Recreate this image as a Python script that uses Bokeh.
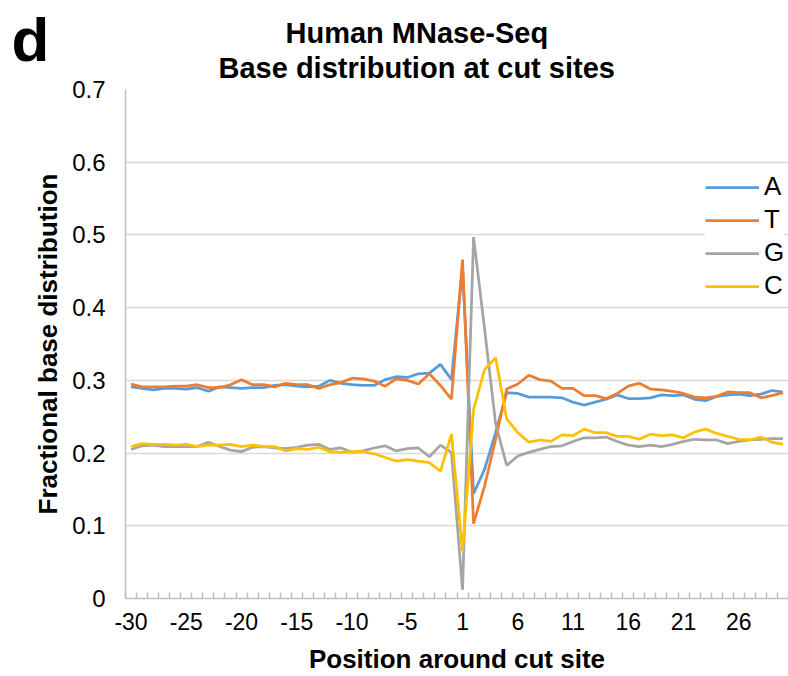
from bokeh.plotting import figure
from bokeh.models import (FixedTicker, Legend, LegendItem, Range1d,
                          CustomJSTickFormatter, Title)
from bokeh.embed import file_html
from bokeh.resources import INLINE

# Positions around the MNase cut site (no position 0)
positions = list(range(-30, 0)) + list(range(1, 31))

base_a = [0.291, 0.289, 0.287, 0.289, 0.289, 0.288, 0.290, 0.285, 0.291, 0.290,
          0.289, 0.290, 0.290, 0.293, 0.294, 0.292, 0.291, 0.292, 0.300, 0.296,
          0.294, 0.293, 0.293, 0.301, 0.305, 0.304, 0.309, 0.310, 0.322, 0.301,
          0.455, 0.144, 0.178, 0.228, 0.283, 0.282, 0.277, 0.277, 0.277, 0.276,
          0.270, 0.266, 0.270, 0.274, 0.280, 0.275, 0.275, 0.276, 0.280, 0.279,
          0.280, 0.274, 0.272, 0.278, 0.280, 0.281, 0.279, 0.281, 0.286, 0.284]

base_t = [0.295, 0.291, 0.291, 0.291, 0.292, 0.292, 0.294, 0.290, 0.290, 0.294,
          0.301, 0.294, 0.294, 0.291, 0.296, 0.294, 0.294, 0.289, 0.294, 0.297,
          0.303, 0.302, 0.299, 0.292, 0.302, 0.300, 0.295, 0.309, 0.293, 0.274,
          0.466, 0.103, 0.155, 0.219, 0.288, 0.295, 0.307, 0.301, 0.299, 0.289,
          0.289, 0.279, 0.279, 0.275, 0.282, 0.292, 0.296, 0.288, 0.287, 0.285,
          0.282, 0.277, 0.276, 0.278, 0.284, 0.283, 0.283, 0.276, 0.279, 0.283]

base_g = [0.205, 0.210, 0.211, 0.209, 0.209, 0.209, 0.209, 0.215, 0.209, 0.204,
          0.202, 0.208, 0.209, 0.207, 0.206, 0.208, 0.211, 0.212, 0.205, 0.207,
          0.201, 0.203, 0.207, 0.210, 0.203, 0.206, 0.207, 0.195, 0.211, 0.201,
          0.012, 0.497, 0.370, 0.240, 0.183, 0.196, 0.201, 0.205, 0.209, 0.210,
          0.216, 0.221, 0.221, 0.222, 0.216, 0.211, 0.209, 0.211, 0.209, 0.212,
          0.216, 0.219, 0.218, 0.218, 0.213, 0.216, 0.218, 0.219, 0.220, 0.220]

base_c = [0.209, 0.213, 0.212, 0.212, 0.211, 0.212, 0.209, 0.211, 0.211, 0.212,
          0.209, 0.211, 0.209, 0.209, 0.203, 0.206, 0.205, 0.208, 0.202, 0.201,
          0.202, 0.202, 0.199, 0.194, 0.189, 0.191, 0.189, 0.187, 0.175, 0.226,
          0.065, 0.260, 0.315, 0.331, 0.247, 0.228, 0.215, 0.218, 0.216, 0.225,
          0.224, 0.233, 0.228, 0.228, 0.223, 0.223, 0.219, 0.226, 0.224, 0.225,
          0.221, 0.229, 0.233, 0.227, 0.223, 0.219, 0.218, 0.222, 0.215, 0.212]

series_names = ["A", "T", "G", "C"]
series_colors = ["#5B9BD5", "#ED7D31", "#A5A5A5", "#FFC000"]

y_ticks = [0.0, 0.1, 0.2, 0.3, 0.4, 0.5, 0.6, 0.7]
label_every = 5

title_lines = ["Human MNase-Seq", "Base distribution at cut sites"]
panel_letter = "d"

FONT = "Liberation Sans"

x = list(range(len(positions)))

p = figure(width=788, height=676, output_backend="svg", toolbar_location=None,
           x_range=Range1d(-0.5, len(positions) - 0.5), y_range=Range1d(0, 0.7),
           min_border_left=125, min_border_right=0, min_border_top=89,
           min_border_bottom=76, title=None)
p.outline_line_color = None
p.background_fill_color = "white"
p.border_fill_color = "white"


def heading(text, size, offset, standoff):
    return Title(text=text, align="left", offset=offset, standoff=standoff,
                 text_font=FONT, text_font_size=size, text_font_style="bold",
                 text_color="black")


# Rows of the top panel, from the frame outwards: second title line, the
# panel letter (pulled down beside the title), then the first title line.
p.add_layout(heading(title_lines[1], "29px", 93, 11), "above")
p.add_layout(heading(panel_letter, "62px", -114, -59), "above")
p.add_layout(heading(title_lines[0], "29px", 160, -33), "above")

# X axis: labels every 5th position, small inward marks between categories
xa = p.xaxis[0]
major = x[::label_every]
xa.ticker = FixedTicker(ticks=major,
                        minor_ticks=[i - 0.5 for i in range(len(positions) + 1)])
xa.major_label_overrides = {i: str(positions[i]) for i in major}
xa.major_tick_in = 0
xa.major_tick_out = 0
xa.minor_tick_in = 6
xa.minor_tick_out = 0
xa.minor_tick_line_color = "#BFBFBF"
xa.minor_tick_line_width = 1.5
xa.axis_line_color = "#BFBFBF"
xa.axis_line_width = 1.5
xa.major_label_text_font = FONT
xa.major_label_text_font_size = "23px"
xa.major_label_text_color = "black"
xa.major_label_standoff = 14
xa.axis_label = "Position around cut site"
xa.axis_label_text_font = FONT
xa.axis_label_text_font_size = "26px"
xa.axis_label_text_font_style = "bold"
xa.axis_label_text_color = "black"
xa.axis_label_standoff = 11

# Y axis
ya = p.yaxis[0]
ya.ticker = FixedTicker(ticks=y_ticks)
ya.formatter = CustomJSTickFormatter(
    code="return tick === 0 ? '0' : tick.toFixed(1);")
ya.major_tick_in = 0
ya.major_tick_out = 0
ya.minor_tick_line_color = None
ya.axis_line_color = "#BFBFBF"
ya.axis_line_width = 1.5
ya.major_label_text_font = FONT
ya.major_label_text_font_size = "24px"
ya.major_label_text_color = "black"
ya.major_label_standoff = 20
ya.axis_label = "Fractional base distribution"
ya.axis_label_text_font = FONT
ya.axis_label_text_font_size = "26px"
ya.axis_label_text_font_style = "bold"
ya.axis_label_text_color = "black"
ya.axis_label_standoff = 6

p.xgrid.grid_line_color = None
p.ygrid.ticker = FixedTicker(ticks=y_ticks)
p.ygrid.grid_line_color = "#D9D9D9"
p.ygrid.grid_line_width = 1.5

items = []
for name, vals, col in zip(series_names, [base_a, base_t, base_g, base_c],
                           series_colors):
    r = p.line(x, vals, line_color=col, line_width=2.75)
    items.append(LegendItem(label=name, renderers=[r]))

legend = Legend(items=items, location=(580, 297), orientation="vertical",
                label_text_font=FONT, label_text_font_size="26px",
                label_text_color="black", glyph_width=54, glyph_height=30,
                label_height=30, label_standoff=5, spacing=2, padding=6,
                margin=0, border_line_color=None,
                background_fill_color="white", background_fill_alpha=1.0)
p.add_layout(legend)

open("out.html", "w").write(file_html(p, INLINE))
